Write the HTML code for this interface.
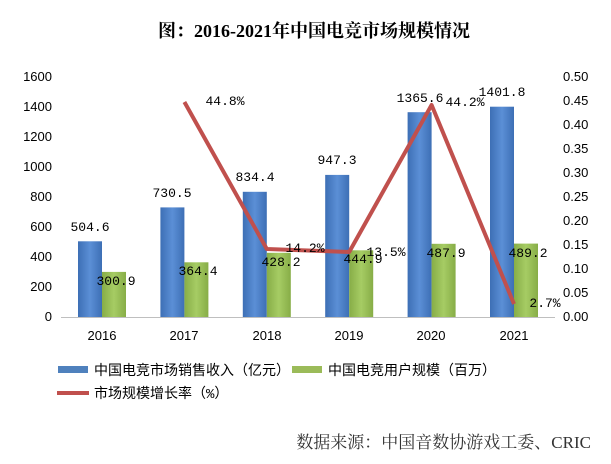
<!DOCTYPE html>
<html><head><meta charset="utf-8"><style>
body{margin:0;background:#fff;}
svg text{font-family:"Liberation Mono","Noto Sans CJK SC",monospace;font-size:13px;fill:#000;}
svg .ax text{font-family:"Liberation Sans",sans-serif;font-size:13px;}
</style></head><body>
<svg width="611" height="459" viewBox="0 0 611 459" xmlns="http://www.w3.org/2000/svg">
<text x="314" y="37" text-anchor="middle" style="font-family:'Liberation Serif','Noto Serif CJK SC',serif;font-size:18px;font-weight:bold">图：2016-2021年中国电竞市场规模情况</text>
<g class="ax">
<g text-anchor="end">
<text x="52" y="321">0</text><text x="52" y="291">200</text><text x="52" y="261">400</text><text x="52" y="231">600</text><text x="52" y="201">800</text><text x="52" y="171">1000</text><text x="52" y="141">1200</text><text x="52" y="111">1400</text><text x="52" y="81">1600</text>
</g>
<g text-anchor="start">
<text x="563" y="321">0.00</text><text x="563" y="297">0.05</text><text x="563" y="273">0.10</text><text x="563" y="249">0.15</text><text x="563" y="225">0.20</text><text x="563" y="201">0.25</text><text x="563" y="177">0.30</text><text x="563" y="153">0.35</text><text x="563" y="129">0.40</text><text x="563" y="105">0.45</text><text x="563" y="81">0.50</text>
</g>
<g text-anchor="middle">
<text x="102" y="340">2016</text><text x="184" y="340">2017</text><text x="267" y="340">2018</text><text x="349" y="340">2019</text><text x="431" y="340">2020</text><text x="514" y="340">2021</text>
</g>
</g>
<line x1="61" y1="317.5" x2="555" y2="317.5" stroke="#bfbfbf"/>
<defs>
<linearGradient id="b" x1="0" x2="1"><stop offset="0" stop-color="#3d6fb5"/><stop offset="0.5" stop-color="#5b8fd6"/><stop offset="1" stop-color="#3d6fb5"/></linearGradient>
<linearGradient id="g" x1="0" x2="1"><stop offset="0" stop-color="#87ad47"/><stop offset="0.5" stop-color="#a6cc64"/><stop offset="1" stop-color="#87ad47"/></linearGradient>
</defs>
<g fill="url(#b)">
<rect x="78" y="241.3" width="24" height="75.7"/>
<rect x="160.4" y="207.4" width="24" height="109.6"/>
<rect x="242.8" y="191.8" width="24" height="125.2"/>
<rect x="325.2" y="174.9" width="24" height="142.1"/>
<rect x="407.6" y="112.2" width="24" height="204.8"/>
<rect x="490" y="106.7" width="24" height="210.3"/>
</g>
<g fill="url(#g)">
<rect x="102" y="271.9" width="24" height="45.1"/>
<rect x="184.4" y="262.3" width="24" height="54.7"/>
<rect x="266.8" y="252.8" width="24" height="64.2"/>
<rect x="349.2" y="250.3" width="24" height="66.7"/>
<rect x="431.6" y="243.8" width="24" height="73.2"/>
<rect x="514" y="243.6" width="24" height="73.4"/>
</g>
<polyline points="184.4,102 266.8,249 349.2,252 431.6,105 514,304" fill="none" stroke="#c0504d" stroke-width="4" stroke-linejoin="round"/>
<g text-anchor="middle">
<text x="90" y="231">504.6</text><text x="116" y="285">300.9</text>
<text x="172" y="197">730.5</text><text x="198" y="275">364.4</text>
<text x="255" y="181">834.4</text><text x="281" y="266">428.2</text>
<text x="337" y="164">947.3</text><text x="363" y="263">444.9</text>
<text x="420" y="102">1365.6</text><text x="446" y="257">487.9</text>
<text x="502" y="96">1401.8</text><text x="528" y="257">489.2</text>
<text x="225" y="105">44.8%</text><text x="305" y="252">14.2%</text><text x="386" y="256">13.5%</text>
<text x="465" y="106">44.2%</text><text x="545" y="307">2.7%</text>
</g>
<rect x="58" y="366" width="30" height="7" fill="#4f81bd"/>
<text x="94" y="375" style="font-size:14px">中国电竞市场销售收入（亿元）</text>
<rect x="292" y="366" width="30" height="7" fill="#9bbb59"/>
<text x="328" y="375" style="font-size:14px">中国电竞用户规模（百万）</text>
<line x1="57" y1="393" x2="89" y2="393" stroke="#c0504d" stroke-width="4"/>
<text x="94" y="398" style="font-size:14px">市场规模增长率（%）</text>
<text x="591" y="448" text-anchor="end" style="font-family:'Liberation Serif','Noto Serif CJK SC',serif;font-size:17px;fill:#333">数据来源：中国音数协游戏工委、CRIC</text>
</svg>
</body></html>
